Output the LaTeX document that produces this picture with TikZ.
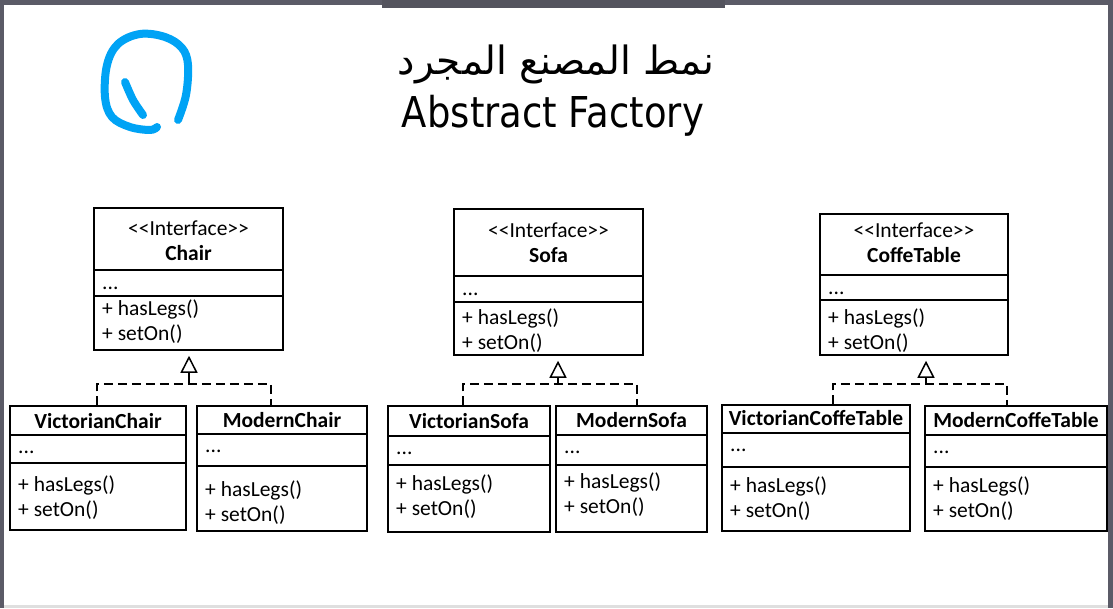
\documentclass[tikz,border=0pt]{standalone}
\usepackage{fontspec}
\setmainfont{Carlito}
\newfontfamily\umlfont{Carlito}
\newfontfamily\titlefont{DejaVu Sans}[FakeStretch=0.87]
\newfontfamily\arabicfont[Script=Arabic]{DejaVu Sans}
\TeXXeTstate=1
\usetikzlibrary{arrows.meta,fit}
\definecolor{FrameGray}{HTML}{5B5B67}
\definecolor{BarGray}{HTML}{54545E}
\definecolor{PenBlue}{HTML}{00A3F5}
\tikzset{classbox/.style={draw,line width=1.5pt,inner sep=0pt},divider/.style={line width=2pt},
  member/.style={anchor=base west,inner sep=0pt,font=\umlfont\fontsize{21.5}{25}\selectfont},
  classname/.style={anchor=base,inner sep=0pt,font=\umlfont\bfseries\fontsize{21.5}{25}\selectfont},
  stereo/.style={anchor=base,inner sep=0pt,font=\umlfont\fontsize{21.5}{25}\selectfont},
  realize/.style={dash pattern=on 9pt off 5pt,line width=2pt},
  inherit/.style={line width=2pt,-{Triangle[open,length=17pt,width=17pt,line width=1.5pt]},shorten >=5pt},
  pen/.style={PenBlue,line width=8pt,line cap=round,line join=round}}

\begin{document}
\begin{tikzpicture}[x=1pt,y=-1pt]
\useasboundingbox (0,0) rectangle (1113,608);
\fill[FrameGray] (0,0) rectangle (1113,608);
\fill[white] (4,5) rectangle (1108,605);
\fill[gray!25] (4,605) rectangle (1108,608);
\fill[BarGray] (382,0) rectangle (725,8);
\draw[pen] plot[smooth,tension=0.6] coordinates {(178,120) (186,95) (188,65) (182,48) (165,37) (140,34) (118,44) (107,65) (105,97) (112,117) (130,127) (150,130) (157,127)};
\draw[pen] plot[smooth] coordinates {(125,82) (133,100) (143,115)};
\node[font=\arabicfont\fontsize{39}{46}\selectfont,anchor=base,inner sep=0pt] (titlear) at (556,74) {\beginR نمط المصنع المجرد\endR};
\node[font=\titlefont\fontsize{42.5}{50}\selectfont,anchor=base,inner sep=0pt] (titleen) at (553,127) {Abstract Factory};
\foreach \nm/\lbl/\l/\t/\r/\b/\da/\db/\ys/\ym in {chair/Chair/94/208/283/350/270/296/235/315,sofa/Sofa/454/209/643/355/276/302/237/324,table/CoffeTable/820/214/1008/355/275/300/237/324}{
  \node[classbox,fit={(\l,\t) (\r,\b)}] (\nm) {};
  \draw[divider] (\nm.west |- 0,\da) -- (\nm.east |- 0,\da);
  \draw[divider] (\nm.west |- 0,\db) -- (\nm.east |- 0,\db);
  \node[stereo] (\nm-st) at (\l/2+\r/2,\ys) {<\kern0pt<Interface>\kern0pt>};
  \node[classname] (\nm-name) at (\l/2+\r/2,\ys+25) {\lbl};
  \node[member] (\nm-attr) at (\l+8,\da+19) {...};
  \node[member] (\nm-legs) at (\l+8,\ym) {+ hasLegs()};
  \node[member] (\nm-on) at (\l+8,\ym+25) {+ setOn()};
}
\foreach \nm/\lbl/\l/\t/\r/\b/\da/\db/\ys/\ym in {vchair/VictorianChair/10/406/186/530/435/463/428/491,mchair/ModernChair/197/406/367/531/434/466/427/496,vsofa/VictorianSofa/388/406/550/532/436/465/428/490,msofa/ModernSofa/556/406/707/532/435/465/427/488,vtable/VictorianCoffeTable/722/405/910/531/433/467/425/492,mtable/ModernCoffeTable/925/406/1107/531/435/467/427/492}{
  \node[classbox,fit={(\l,\t) (\r,\b)}] (\nm) {};
  \draw[divider] (\nm.west |- 0,\da) -- (\nm.east |- 0,\da);
  \draw[divider] (\nm.west |- 0,\db) -- (\nm.east |- 0,\db);
  \node[classname] (\nm-name) at (\l/2+\r/2,\ys) {\lbl};
  \node[member] (\nm-attr) at (\l+8,\da+18) {...};
  \node[member] (\nm-legs) at (\l+8,\ym) {+ hasLegs()};
  \node[member] (\nm-on) at (\l+8,\ym+25) {+ setOn()};
}
\foreach \p/\v/\m/\jx/\xa/\xb in {chair/vchair/mchair/189/97/271,sofa/vsofa/msofa/558/463/637,table/vtable/mtable/926/833/1007}{
  \coordinate (\p-join) at (\jx,384);
  \draw[realize] (\v.north -| \xa,0) |- (\p-join) -| (\m.north -| \xb,0);
  \draw[inherit] (\p-join) -- (\p.south -| \p-join);
}
\end{tikzpicture}
\end{document}
